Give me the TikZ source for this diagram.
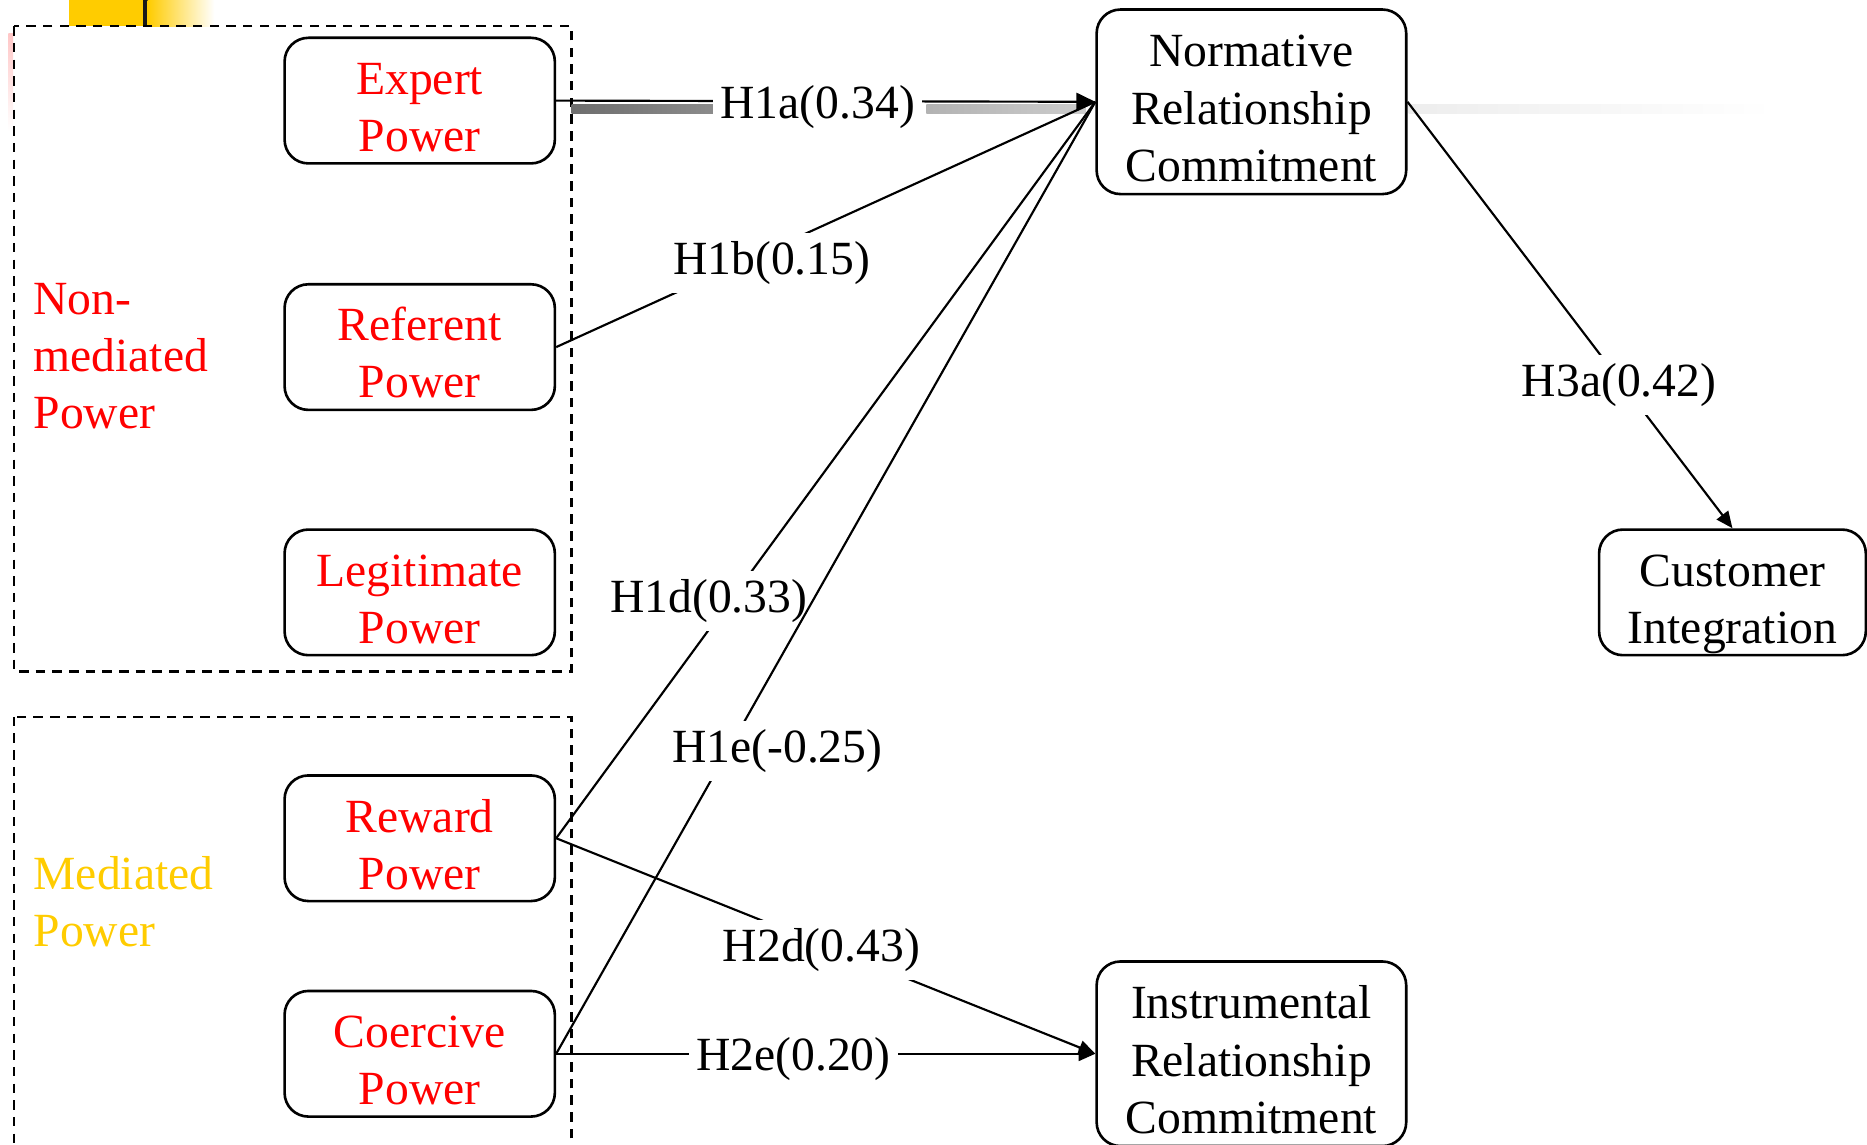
\documentclass[tikz,border=0pt]{standalone}
\usepackage{fontspec}
\setmainfont{Liberation Serif}
\usetikzlibrary{arrows.meta}
\definecolor{pwred}{HTML}{FF0000}
\definecolor{pwgold}{HTML}{FFCC00}
% fixed first-line height and last-line depth for box texts
\newcommand{\hdtop}{\rule{0pt}{47.5pt}}
\newcommand{\hdbot}{\rule[-10pt]{0pt}{10pt}}

\begin{document}
\begin{tikzpicture}[x=1pt,y=-1pt,
  every node/.style={font=\fontsize{40}{48}\selectfont},
  construct/.style={draw=black, line width=2.2pt, rounded corners=20pt, align=center, inner sep=0pt},
  powerbox/.style={construct, text=pwred, minimum width=227pt, minimum height=103pt},
  bigbox/.style={construct, minimum width=260pt, minimum height=155pt},
  group/.style={draw=black, line width=1.8pt, dash pattern=on 8pt off 6pt},
  grouplabel/.style={anchor=west, align=left, inner sep=0pt},
  link/.style={line width=1.8pt},
  tip/.style={-{Triangle[length=14pt,width=12pt]}},
  bigtip/.style={-{Triangle[length=16pt,width=15pt]}},
  hyp/.style={fill=white, inner xsep=6pt, inner ysep=7pt, text=black, yshift=-4.5pt}]

\useasboundingbox (0,0) rectangle (1568,961);
\clip (0,0) rectangle (1568,961);

% header ornament
\fill[pwgold] (58,0) rectangle (120,22);
\fill[black!90] (120,0) rectangle (124,22);
\shade[left color=pwgold, right color=white] (124,0) rectangle (180,22);
\shade[top color=red!22, bottom color=white] (7,28) rectangle (11,110);

% power groups
\draw[group] (12,22) rectangle (480,564);
\draw[group] (12,602) rectangle (480,1000);
\node[grouplabel, text=pwred] (nonmed) at (28,299) {Non-\\mediated\\Power};
\node[grouplabel, text=pwgold] (med) at (28,757) {Mediated\\Power};

% constructs
\node[powerbox] (expert) at (352.5,84.5) {\hdtop Expert\\Power\hdbot};
\node[powerbox] (refer)  at (352.5,291.5) {\hdtop Referent\\Power\hdbot};
\node[powerbox] (legit)  at (352.5,497.5) {\hdtop Legitimate\\Power\hdbot};
\node[powerbox] (reward) at (352.5,704) {\hdtop Reward\\Power\hdbot};
\node[powerbox] (coerc)  at (352.5,885) {\hdtop Coercive\\Power\hdbot};
\node[bigbox] (norm)  at (1051,85.5) {\hdtop Normative\\Relationship\\Commitment\hdbot};
\node[bigbox] (instr) at (1051,885) {\hdtop Instrumental\\Relationship\\Commitment\hdbot};
\node[construct, minimum width=224pt, minimum height=103pt] (cust) at (1455,497.5) {\hdtop Customer\\Integration\hdbot};

% grey shadow strokes along H1a
\shade[left color=black!57, right color=black!45] (480,88) rectangle (603,95);
\shade[left color=black!30, right color=black!20] (778,88) rectangle (912,95);
\shade[left color=black!7, right color=white] (1183,88) rectangle (1490,95);

% hypotheses
\draw[link] (refer.east) -- node[hyp, pos=0.4, yshift=-7.5pt] {H1b(0.15)} (norm.west);
\draw[link] (reward.east) -- node[hyp, pos=0.3295, xshift=-21pt] {H1d(0.33)} (norm.west);
\draw[link] (coerc.east) -- node[hyp, pos=0.324, xshift=39pt] {H1e(-0.25)} (norm.west);
\draw[link, bigtip] (expert.east) -- node[hyp, pos=0.485] {H1a(0.34)} (norm.west);
\draw[link, tip] (reward.east) -- node[hyp, pos=0.492] {H2d(0.43)} (instr.west);
\draw[link, tip] (coerc.east) -- node[hyp, pos=0.44] {H2e(0.20)} (instr.west);
\draw[link, tip] (norm.east) -- node[hyp, pos=0.651] {H3a(0.42)} (cust.north);
\end{tikzpicture}
\end{document}
